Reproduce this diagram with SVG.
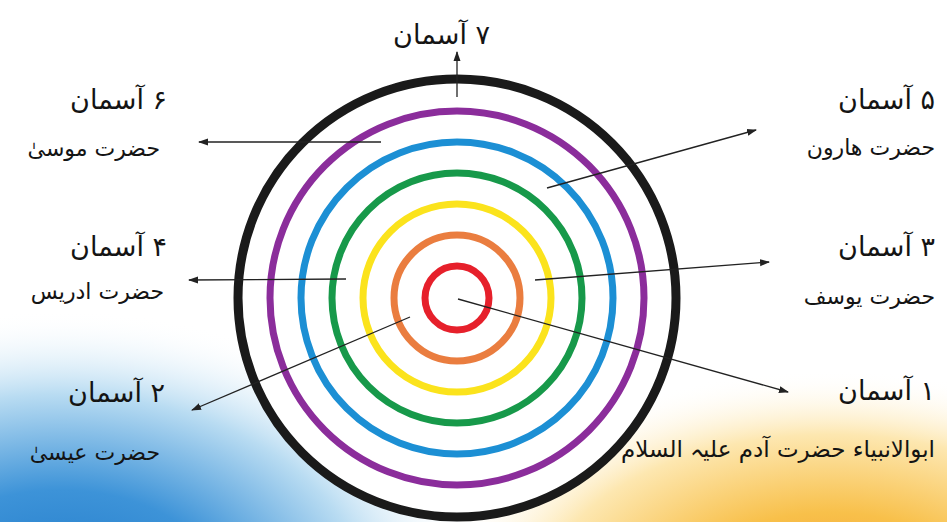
<svg xmlns="http://www.w3.org/2000/svg" width="947" height="522" viewBox="0 0 947 522">
<style>
.ring{fill:none}
.lbl{font-family:"DejaVu Sans",sans-serif;fill:#141414;direction:rtl;text-anchor:start}
.h{font-size:27px}
.n{font-size:22px}
.lead{stroke:#222;stroke-width:1.3;fill:none;marker-end:url(#ah)}
</style>
<defs>
<marker id="ah" viewBox="0 0 10 10" refX="9" refY="5" markerWidth="10" markerHeight="10" markerUnits="userSpaceOnUse" orient="auto">
<path d="M0,1.5 L10,5 L0,8.5 z" fill="#222"/>
</marker>
<radialGradient id="bl" cx="0" cy="0" r="1" gradientUnits="userSpaceOnUse" gradientTransform="translate(60 610) scale(430 300)">
<stop offset="0" stop-color="#1a74c6"/>
<stop offset="0.4" stop-color="#3d93d8"/>
<stop offset="0.72" stop-color="#b9dcf2"/>
<stop offset="1" stop-color="#ffffff" stop-opacity="0"/>
</radialGradient>
<radialGradient id="br" cx="0" cy="0" r="1" gradientUnits="userSpaceOnUse" gradientTransform="translate(830 600) scale(400 230)">
<stop offset="0" stop-color="#f39a2e"/>
<stop offset="0.38" stop-color="#f8c04a"/>
<stop offset="0.72" stop-color="#fde7b0"/>
<stop offset="1" stop-color="#ffffff" stop-opacity="0"/>
</radialGradient>
</defs>
<rect width="947" height="522" fill="#ffffff"/>
<rect width="947" height="522" fill="url(#bl)"/>
<rect width="947" height="522" fill="url(#br)"/>

<g id="circles">
<circle cx="457" cy="298" r="215" fill="#ffffff"/>
<circle class="ring" cx="457" cy="298" r="219" stroke="#1a1a1a" stroke-width="9"/>
<circle class="ring" cx="457" cy="298" r="187" stroke="#8b2d9b" stroke-width="7"/>
<circle class="ring" cx="457" cy="298" r="156" stroke="#1c8fd4" stroke-width="7"/>
<circle class="ring" cx="457" cy="298" r="125" stroke="#17994a" stroke-width="7"/>
<circle class="ring" cx="457" cy="298" r="94" stroke="#fbe31c" stroke-width="7"/>
<circle class="ring" cx="457" cy="298" r="63" stroke="#ea7d3f" stroke-width="7"/>
<circle class="ring" cx="457" cy="298" r="32" stroke="#e6202b" stroke-width="7"/>
</g>

<g id="connectors">
<line class="lead" x1="457" y1="97" x2="457" y2="52"/>
<line class="lead" x1="381" y1="142" x2="199" y2="142"/>
<line class="lead" x1="346" y1="279" x2="189" y2="280"/>
<line class="lead" x1="410" y1="317" x2="192" y2="410"/>
<line class="lead" x1="547" y1="188" x2="756" y2="130"/>
<line class="lead" x1="535" y1="280" x2="769" y2="262"/>
<line class="lead" x1="458" y1="299" x2="788" y2="392"/>
</g>

<g id="sky7"><text class="lbl h" x="490" y="44">۷ آسمان</text></g>
<g id="sky6"><text class="lbl h" x="167" y="109">۶ آسمان</text><text class="lbl n" x="160" y="156">حضرت موسیٰ</text></g>
<g id="sky4"><text class="lbl h" x="167" y="256">۴ آسمان</text><text class="lbl n" x="164" y="299">حضرت ادریس</text></g>
<g id="sky2"><text class="lbl h" x="165" y="402">۲ آسمان</text><text class="lbl n" x="160" y="460">حضرت عیسیٰ</text></g>
<g id="sky5"><text class="lbl h" x="935" y="109">۵ آسمان</text><text class="lbl n" x="935" y="155">حضرت هارون</text></g>
<g id="sky3"><text class="lbl h" x="935" y="256">۳ آسمان</text><text class="lbl n" x="935" y="304">حضرت یوسف</text></g>
<g id="sky1"><text class="lbl h" x="935" y="400">۱ آسمان</text><text class="lbl" style="font-size:23px" x="935" y="457">ابوالانبیاء حضرت آدم علیہ السلام</text></g>
</svg>
